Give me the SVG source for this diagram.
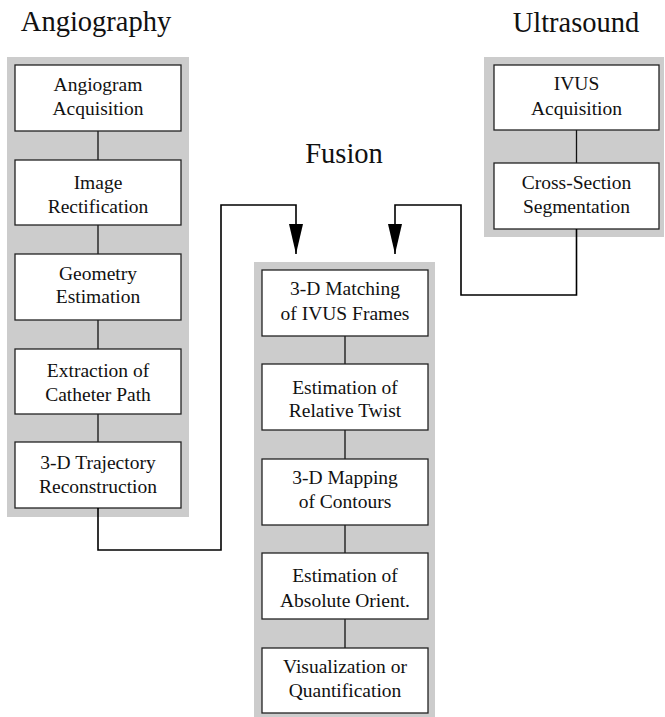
<svg xmlns="http://www.w3.org/2000/svg" width="665" height="717" viewBox="0 0 665 717">
<style>
.panel{fill:#cccccc;stroke:none}
.box{fill:#ffffff;stroke:#222222;stroke-width:1.3}
.t{font-family:'Liberation Serif','Times New Roman',Times,'DejaVu Serif',serif;font-size:19.5px;fill:#111111;text-anchor:middle}
.title{font-family:'Liberation Serif','Times New Roman',Times,'DejaVu Serif',serif;font-size:28.5px;fill:#111111;text-anchor:middle}
.link{stroke:#111111;stroke-width:1.3;fill:none}
.conn{stroke:#000000;stroke-width:1.6;fill:none}
</style>
<defs>
<marker id="arrow" markerUnits="userSpaceOnUse" markerWidth="31" markerHeight="14" refX="30" refY="7" orient="auto" viewBox="0 0 31 14">
<path d="M0,0 L30,7 L0,14 Z" fill="#000000"/>
</marker>
</defs>
<rect width="665" height="717" fill="#ffffff"/>
<g id="titles">
<text class="title" x="96" y="31" font-family="Liberation Serif, serif">Angiography</text>
<text class="title" x="344" y="163" font-family="Liberation Serif, serif">Fusion</text>
<text class="title" x="576" y="31.5" font-family="Liberation Serif, serif">Ultrasound</text>
</g>
<g id="panels">
<rect class="panel" x="7" y="57" width="182" height="460"/>
<rect class="panel" x="484" y="57" width="180" height="180"/>
<rect class="panel" x="254" y="262" width="181" height="455"/>
</g>
<g id="internal-links">
<line class="link" x1="98" y1="131" x2="98" y2="160"/>
<line class="link" x1="98" y1="225" x2="98" y2="254"/>
<line class="link" x1="98" y1="320" x2="98" y2="349"/>
<line class="link" x1="98" y1="414" x2="98" y2="442"/>
<line class="link" x1="576.5" y1="130" x2="576.5" y2="163"/>
<line class="link" x1="345" y1="336" x2="345" y2="364"/>
<line class="link" x1="345" y1="430" x2="345" y2="459"/>
<line class="link" x1="345" y1="525" x2="345" y2="553"/>
<line class="link" x1="345" y1="619" x2="345" y2="648"/>
</g>
<g id="a1"><rect class="box" x="15" y="65" width="166" height="66"/><text class="t" x="98" y="91">Angiogram</text><text class="t" x="98" y="115">Acquisition</text></g>
<g id="a2"><rect class="box" x="15" y="160" width="166" height="65"/><text class="t" x="98" y="188.5">Image</text><text class="t" x="98" y="212.5">Rectification</text></g>
<g id="a3"><rect class="box" x="15" y="254" width="166" height="66"/><text class="t" x="98" y="280">Geometry</text><text class="t" x="98" y="303">Estimation</text></g>
<g id="a4"><rect class="box" x="15" y="349" width="166" height="65"/><text class="t" x="98" y="377">Extraction of</text><text class="t" x="98" y="401">Catheter Path</text></g>
<g id="a5"><rect class="box" x="15" y="442" width="166" height="66"/><text class="t" x="98" y="469">3-D Trajectory</text><text class="t" x="98" y="493">Reconstruction</text></g>
<g id="u1"><rect class="box" x="494" y="65" width="165" height="65"/><text class="t" x="576.5" y="90">IVUS</text><text class="t" x="576.5" y="115">Acquisition</text></g>
<g id="u2"><rect class="box" x="494" y="163" width="165" height="66"/><text class="t" x="576.5" y="189">Cross-Section</text><text class="t" x="576.5" y="213">Segmentation</text></g>
<g id="f1"><rect class="box" x="262" y="270" width="166" height="66"/><text class="t" x="345" y="295">3-D Matching</text><text class="t" x="345" y="320">of IVUS Frames</text></g>
<g id="f2"><rect class="box" x="262" y="364" width="166" height="66"/><text class="t" x="345" y="394">Estimation of</text><text class="t" x="345" y="417">Relative Twist</text></g>
<g id="f3"><rect class="box" x="262" y="459" width="166" height="66"/><text class="t" x="345" y="484">3-D Mapping</text><text class="t" x="345" y="508">of Contours</text></g>
<g id="f4"><rect class="box" x="262" y="553" width="166" height="66"/><text class="t" x="345" y="582">Estimation of</text><text class="t" x="345" y="606.5">Absolute Orient.</text></g>
<g id="f5"><rect class="box" x="262" y="648" width="166" height="65"/><text class="t" x="345" y="673">Visualization or</text><text class="t" x="345" y="697">Quantification</text></g>
<g id="connectors">
<path class="conn" d="M98,508 V550 H221 V205 H296 V254" marker-end="url(#arrow)"/>
<path class="conn" d="M576.5,229 V295 H461 V205 H395 V254" marker-end="url(#arrow)"/>
</g>
</svg>
